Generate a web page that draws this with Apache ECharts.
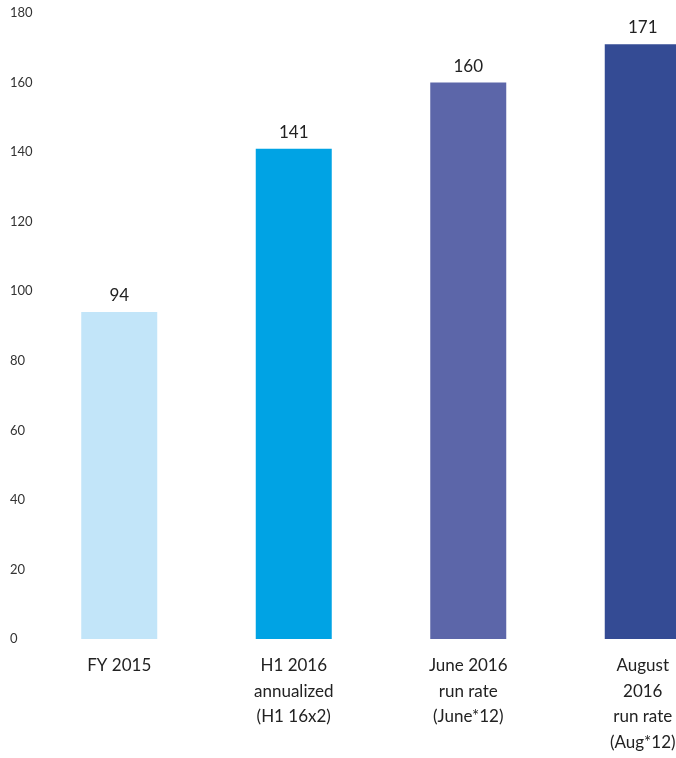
<!DOCTYPE html>
<html>
<head>
<meta charset="utf-8">
<script src="https://cdn.jsdelivr.net/npm/echarts@6/dist/echarts.min.js"></script>
<style>
  html, body { margin: 0; padding: 0; background: #ffffff; }
  #chart { width: 676px; height: 758px; }
</style>
</head>
<body>
<div id="chart"></div>
<script>
// Period labels along the x axis (multi-line)
const categories = [
  'FY 2015',
  'H1 2016\nannualized\n(H1 16x2)',
  'June 2016\nrun rate\n(June*12)',
  'August\n2016\nrun rate\n(Aug*12)'
];
// Values per period
const values = [94, 141, 160, 171];
// Bar fill per period
const barColors = ['#c2e5f9', '#00a3e4', '#5c66a9', '#344b94'];
// Value axis range
const yMin = 0;
const yMax = 180;
const yStep = 20;

const chart = echarts.init(document.getElementById('chart'));
const fontFamily = 'Lato, "Noto Sans", sans-serif';

chart.setOption({
  animation: false,
  backgroundColor: '#ffffff',
  // the last category band runs past the right edge of the canvas
  grid: { left: 32, top: 13, right: -54, bottom: 119, containLabel: false, outerBoundsMode: 'none' },
  xAxis: {
    type: 'category',
    data: categories,
    axisLine: { show: false },
    axisTick: { show: false },
    axisLabel: {
      interval: 0,
      margin: 14,
      color: '#222222',
      fontFamily: fontFamily,
      fontSize: 17,
      lineHeight: 25.5,
      align: 'center',
      verticalAlign: 'top'
    }
  },
  yAxis: {
    type: 'value',
    min: yMin,
    max: yMax,
    interval: yStep,
    axisLine: { show: false },
    axisTick: { show: false },
    splitLine: { show: false },
    axisLabel: {
      margin: 22,
      align: 'left',
      color: '#333333',
      fontFamily: fontFamily,
      fontSize: 13
    }
  },
  series: [{
    type: 'bar',
    barWidth: 76,
    data: values.map((v, i) => ({ value: v, itemStyle: { color: barColors[i] } })),
    label: {
      show: true,
      position: 'top',
      distance: 8,
      color: '#222222',
      fontFamily: fontFamily,
      fontSize: 17
    }
  }]
});
</script>
</body>
</html>
